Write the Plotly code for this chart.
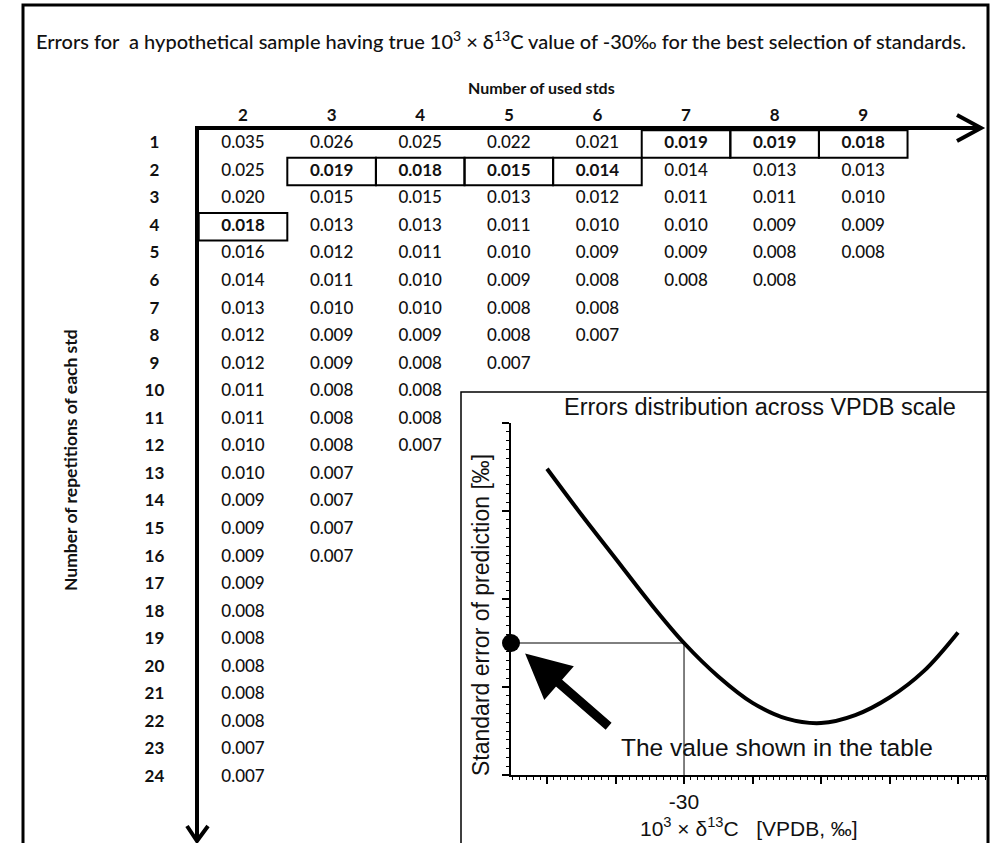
import plotly.graph_objects as go

# ---------------- data ----------------
n_stds = [2, 3, 4, 5, 6, 7, 8, 9]
repetitions = list(range(1, 25))

err_2 = [0.035, 0.025, 0.020, 0.018, 0.016, 0.014, 0.013, 0.012, 0.012, 0.011, 0.011, 0.010,
         0.010, 0.009, 0.009, 0.009, 0.009, 0.008, 0.008, 0.008, 0.008, 0.008, 0.007, 0.007]
err_3 = [0.026, 0.019, 0.015, 0.013, 0.012, 0.011, 0.010, 0.009, 0.009, 0.008, 0.008, 0.008,
         0.007, 0.007, 0.007, 0.007]
err_4 = [0.025, 0.018, 0.015, 0.013, 0.011, 0.010, 0.010, 0.009, 0.008, 0.008, 0.008, 0.007]
err_5 = [0.022, 0.015, 0.013, 0.011, 0.010, 0.009, 0.008, 0.008, 0.007]
err_6 = [0.021, 0.014, 0.012, 0.010, 0.009, 0.008, 0.008, 0.007]
err_7 = [0.019, 0.014, 0.011, 0.010, 0.009, 0.008]
err_8 = [0.019, 0.013, 0.011, 0.009, 0.008, 0.008]
err_9 = [0.018, 0.013, 0.010, 0.009, 0.008]
errors = {2: err_2, 3: err_3, 4: err_4, 5: err_5, 6: err_6, 7: err_7, 8: err_8, 9: err_9}

# best selection (boxed cell) per number of standards -> repetitions
best_rep = {2: 4, 3: 2, 4: 2, 5: 2, 6: 2, 7: 1, 8: 1, 9: 1}

# inset curve
vpdb_x = [-50, -45, -40, -35, -30, -25, -20, -15, -10, -5, 0, 5, 10]
se_pred = [0.0174, 0.0148, 0.0123, 0.0098, 0.0075, 0.0056, 0.0041, 0.0032, 0.00295,
           0.0034, 0.0044, 0.0059, 0.0081]
sample_x = -30
sample_se = 0.0075
inset_xrange = [-55.26, 14.38]
inset_yrange = [0, 0.02]
inset_xticks = [-50, -40, -30, -20, -10, 0, 10]

# ---------------- geometry helpers ----------------
W, H = 998, 843
def PX(x):
    return x / W
def PY(y):
    return 1 - y / H

TABLE_FONT = "Lato"
INSET_FONT = "Liberation Sans, Arial"
INK = "#111111"

fig = go.Figure()

# table values
nx, ny, nt, bx, by, bt = [], [], [], [], [], []
for c in n_stds:
    for r, v in zip(repetitions, errors[c]):
        if best_rep[c] == r:
            bx.append(c); by.append(r); bt.append(f"<b>{v:.3f}</b>")
        else:
            nx.append(c); ny.append(r); nt.append(f"{v:.3f}")

fig.add_trace(go.Scatter(x=nx, y=ny, text=nt, mode="text", hoverinfo="skip",
                         textfont=dict(family=TABLE_FONT, size=17, color=INK, weight=500),
                         showlegend=False, xaxis="x", yaxis="y"))
fig.add_trace(go.Scatter(x=bx, y=by, text=bt, mode="text", hoverinfo="skip",
                         textfont=dict(family=TABLE_FONT, size=17, color=INK),
                         showlegend=False, xaxis="x", yaxis="y"))
# row labels
fig.add_trace(go.Scatter(x=[1] * len(repetitions), y=repetitions,
                         text=[f"<b>{r}</b>" for r in repetitions], mode="text",
                         textfont=dict(family=TABLE_FONT, size=17, color=INK),
                         hoverinfo="skip", showlegend=False, xaxis="x", yaxis="y"))
# column headers
fig.add_trace(go.Scatter(x=n_stds, y=[0] * len(n_stds),
                         text=[f"<b>{c}</b>" for c in n_stds], mode="text",
                         textfont=dict(family=TABLE_FONT, size=17, color=INK),
                         hoverinfo="skip", showlegend=False, xaxis="x", yaxis="y"))

# boxes around best selections
shapes = []
for c, r in best_rep.items():
    shapes.append(dict(type="rect", xref="x", yref="y", x0=c - 0.5, x1=c + 0.5,
                       y0=r - 0.5, y1=r + 0.5, line=dict(color="black", width=2)))

# ---------------- inset ----------------
fig.add_trace(go.Scatter(x=vpdb_x, y=se_pred, mode="lines",
                         line=dict(color="black", width=4, shape="spline", smoothing=1.0),
                         showlegend=False, hoverinfo="skip", xaxis="x2", yaxis="y2"))
fig.add_trace(go.Scatter(x=[inset_xrange[0], sample_x, sample_x], y=[sample_se, sample_se, inset_yrange[0]],
                         mode="lines", line=dict(color="black", width=1),
                         showlegend=False, hoverinfo="skip", xaxis="x2", yaxis="y2"))
fig.add_trace(go.Scatter(x=[inset_xrange[0]], y=[sample_se], mode="markers",
                         marker=dict(color="black", size=18), cliponaxis=False,
                         showlegend=False, hoverinfo="skip", xaxis="x2", yaxis="y2"))

# frames and arrows (decoration)
shapes += [
    dict(type="rect", xref="paper", yref="paper", x0=PX(461), x1=PX(988), y0=PY(392), y1=PY(870),
         line=dict(color="black", width=1.5), fillcolor="white", layer="below"),
    dict(type="rect", xref="paper", yref="paper", x0=PX(23), x1=PX(988), y0=PY(5), y1=PY(870),
         line=dict(color="black", width=3)),
    dict(type="line", xref="paper", yref="paper", x0=PX(195), x1=PX(979), y0=PY(128), y1=PY(128),
         line=dict(color="black", width=4)),
    dict(type="path", xref="paper", yref="paper",
         path=f"M {PX(957)},{PY(115)} L {PX(981)},{PY(128)} L {PX(957)},{PY(141)}",
         line=dict(color="black", width=4)),
    dict(type="line", xref="paper", yref="paper", x0=PX(197), x1=PX(197), y0=PY(126), y1=PY(840),
         line=dict(color="black", width=4)),
    dict(type="path", xref="paper", yref="paper",
         path=f"M {PX(187)},{PY(826)} L {PX(197)},{PY(841)} L {PX(208)},{PY(826)}",
         line=dict(color="black", width=4)),
]

def label(text, x, y, font, size, angle=0, weight=None):
    f = dict(family=font, size=size, color=INK)
    if weight:
        f["weight"] = weight
    return dict(text=text, x=PX(x), y=PY(y), xref="paper", yref="paper", showarrow=False,
                xanchor="center", yanchor="middle", textangle=angle, font=f)

annotations = [
    label("Errors for\u00a0 a hypothetical sample having true 10<sup>3</sup> × δ<sup>13</sup>C value of -30‰ for the best selection of standards.",
          501, 40, TABLE_FONT, 20, weight=500),
    label("<b>Number of used stds</b>", 541, 87, TABLE_FONT, 16),
    label("<b>Number of repetitions of each std</b>", 70, 460, TABLE_FONT, 17.5, -90),
    label("Errors distribution across VPDB scale", 760, 407, INSET_FONT, 23.5),
    label("Standard error of prediction [‰]", 481, 615, INSET_FONT, 23, -90),
    label("10<sup>3</sup> × δ<sup>13</sup>C   [VPDB, ‰]", 749, 827, INSET_FONT, 21),
    label("The value shown in the table", 777, 747, INSET_FONT, 24.5),
    dict(text="", x=-53.2, y=0.0069, xref="x2", yref="y2", showarrow=True,
         ax=85, ay=74, arrowhead=2, arrowsize=1.0, arrowwidth=9, arrowcolor="black", standoff=0),
]

fig.update_layout(
    width=W, height=H, margin=dict(l=0, r=0, t=0, b=0),
    paper_bgcolor="white", plot_bgcolor="rgba(0,0,0,0)",
    showlegend=False,
    xaxis=dict(domain=[0, 1], range=[-0.7427, 10.521], visible=False, fixedrange=True),
    yaxis=dict(domain=[0, 1], range=[26.372, -4.227], visible=False, fixedrange=True),
    xaxis2=dict(domain=[PX(511), PX(988)], range=inset_xrange, anchor="y2",
                showline=True, linecolor="black", linewidth=1.5, showgrid=False, zeroline=False,
                ticks="outside", ticklen=7, tickcolor="black", tickwidth=1.5,
                tickvals=inset_xticks, ticktext=["", "", "-30", "", "", "", ""],
                tickfont=dict(family=INSET_FONT, size=21, color=INK),
                minor=dict(dtick=1, ticks="outside", ticklen=3, tickcolor="black", tickwidth=1)),
    yaxis2=dict(domain=[PY(775), PY(423)], range=inset_yrange, anchor="x2",
                showline=True, linecolor="black", linewidth=1.5, showgrid=False, zeroline=False,
                ticks="outside", ticklen=7, tickcolor="black", tickwidth=1.5, dtick=0.005,
                showticklabels=False,
                minor=dict(dtick=0.0005, ticks="outside", ticklen=3, tickcolor="black", tickwidth=1)),
    shapes=shapes,
    annotations=annotations,
)

fig.write_html("out.html")
